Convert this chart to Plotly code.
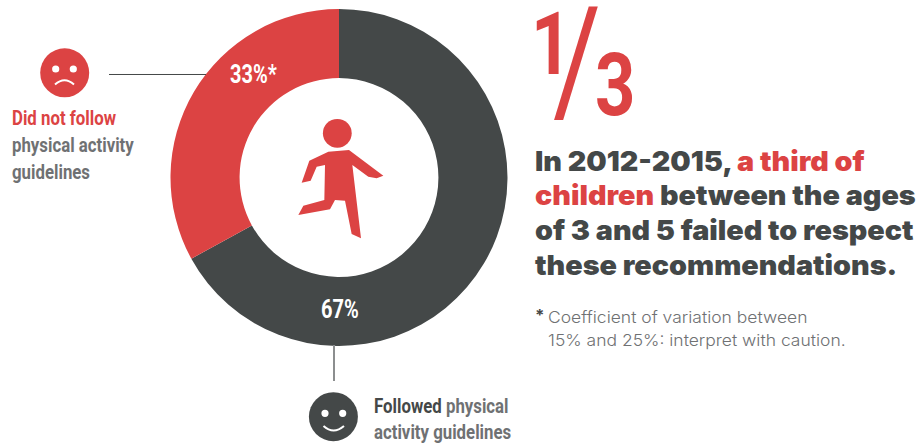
import plotly.graph_objects as go

# Survey shares, in percent
categories = ["Followed physical activity guidelines", "Did not follow physical activity guidelines"]
shares = [67, 33]

W, H = 919, 444
RED = "#DC4343"
DARK = "#444848"
GREY = "#6F7173"
NARROW = "Roboto"
HEAD = "Inter"
BODY = "Inter"


def px(x):
    return x / W


def py(y):
    return 1 - y / H


def path(cmds):
    # Commands are written in page pixels and converted to paper fractions.
    out = []
    for c in cmds:
        if isinstance(c, str):
            out.append(c)
        else:
            out.append(f"{px(c[0]):.5f},{py(c[1]):.5f}")
    return " ".join(out)


def polygon(points, color):
    cmds = ["M", points[0]]
    for p in points[1:]:
        cmds += ["L", p]
    cmds.append("Z")
    return dict(type="path", xref="paper", yref="paper", path=path(cmds),
                fillcolor=color, line=dict(width=0), layer="above")


def circle(cx, cy, r, color):
    return dict(type="circle", xref="paper", yref="paper",
                x0=px(cx - r), x1=px(cx + r), y0=py(cy + r), y1=py(cy - r),
                fillcolor=color, line=dict(width=0), layer="above")


def stroke(cmds, color, width):
    return dict(type="path", xref="paper", yref="paper", path=path(cmds),
                line=dict(color=color, width=width), layer="above")


def label(x, y, text, size, color, family, anchor="left", weight=None):
    font = dict(size=size, color=color, family=family)
    if weight:
        font["weight"] = weight
    return dict(x=px(x), y=py(y), xref="paper", yref="paper", text=text, showarrow=False,
                xanchor=anchor, yanchor="middle", align="left", font=font,
                borderpad=0, borderwidth=0)


# Offset of the running figure inside the donut hole
def runner(points):
    return [(280 + x / 3, 110 + y / 3) for x, y in points]


runner_body = runner([
    (145, 125), (207, 120), (310, 197), (290, 205), (265, 200), (217, 165), (243, 385),
    (215, 372), (195, 272), (165, 270), (150, 298), (55, 315), (70, 287), (133, 270),
    (135, 165), (110, 170), (92, 212), (65, 218), (88, 152),
])

shapes = [
    # Leader lines
    stroke(["M", (109, 74.5), "L", (206, 74.5)], DARK, 1),
    stroke(["M", (334, 345), "L", (334, 381)], "#8C8E8F", 2),
    # Sad face
    circle(64.7, 72.8, 24.5, RED),
    circle(55.7, 69, 3.6, "white"),
    circle(73.3, 69, 3.6, "white"),
    stroke(["M", (55, 84.5), "Q", (64.5, 76), (74, 84.5)], "white", 2),
    # Happy face
    circle(333.4, 416.7, 24.5, DARK),
    circle(325, 413.3, 3.6, "white"),
    circle(342.7, 413.3, 3.6, "white"),
    stroke(["M", (323.5, 426), "Q", (333.5, 435), (344, 426)], "white", 2),
    # Runner
    circle(337.3, 133.3, 14.4, RED),
    polygon(runner_body, RED),
]

annotations = [
    label(230, 75, f"<b>{shares[1]}%*</b>", 25, "white", NARROW),
    label(344, 309, f"<b>{shares[0]}%</b>", 25, "white", NARROW, "center"),
    label(12, 118, "<b>Did not follow</b>", 21, RED, NARROW),
    label(12, 145, "<b>physical activity</b>", 21, GREY, NARROW),
    label(12, 172, "<b>guidelines</b>", 21, GREY, NARROW),
    label(374, 406, f"<b><span style='color:{DARK}'>Followed</span> physical</b>", 21, GREY, NARROW),
    label(374, 432, "<b>activity guidelines</b>", 21, GREY, NARROW),
    label(531, 44, "<b>1</b>", 88, RED, NARROW),
    label(553, 61, "/", 146, RED, NARROW),
    label(595, 85, "<b>3</b>", 88, RED, NARROW),
    label(535, 161, f"In 2012-2015, <span style='color:{RED}'>a third of</span>", 27.5, DARK, HEAD, weight=900),
    label(535, 195, f"<span style='color:{RED}'>children</span> between the ages", 27.5, DARK, HEAD, weight=900),
    label(535, 230, "of 3 and 5 failed to respect", 27.5, DARK, HEAD, weight=900),
    label(535, 265, "these recommendations.", 27.5, DARK, HEAD, weight=900),
    label(535, 315, "<b>*</b>", 16, DARK, BODY),
    label(548, 317, "Coefficient of variation between", 16.5, GREY, BODY, weight=300),
    label(548, 340, "15% and 25%: interpret with caution.", 16.5, GREY, BODY, weight=300),
]

fig = go.Figure(go.Pie(
    labels=categories,
    values=shares,
    hole=0.59,
    sort=False,
    direction="clockwise",
    rotation=0,
    textinfo="none",
    hoverinfo="skip",
    showlegend=False,
    marker=dict(colors=[DARK, RED], line=dict(width=0)),
    domain=dict(x=[px(170.5), px(507.5)], y=[py(346), py(9)]),
))

fig.update_layout(
    width=W, height=H,
    margin=dict(l=0, r=0, t=0, b=0),
    paper_bgcolor="white",
    plot_bgcolor="white",
    shapes=shapes,
    annotations=annotations,
)

# Fit the installed faces to the set widths of the display and text type.
fit_widths = """
document.querySelectorAll('.annotation-text').forEach(function (t) {
  var family = t.style.fontFamily;
  var size = parseFloat(t.style.fontSize);
  var factor = family.indexOf('Roboto') >= 0 ? 0.8 : (size > 20 ? 1.045 : 1.06);
  t.setAttribute('textLength', t.getComputedTextLength() * factor);
  t.setAttribute('lengthAdjust', 'spacingAndGlyphs');
});
"""
fig.write_html("out.html", config={"displayModeBar": False}, post_script=fit_widths)
